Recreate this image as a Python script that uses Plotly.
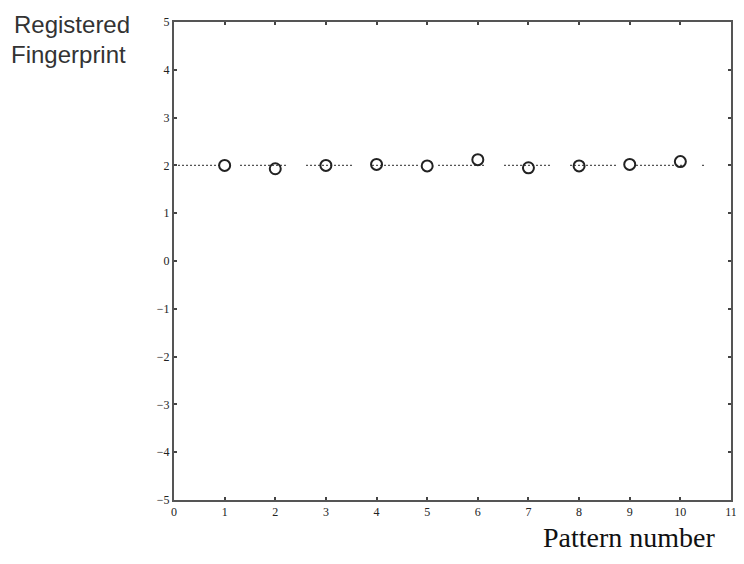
import plotly.graph_objects as go

patterns = [1, 2, 3, 4, 5, 6, 7, 8, 9, 10]
registered = [2.00, 1.93, 2.00, 2.02, 1.99, 2.12, 1.95, 1.99, 2.02, 2.08]
ref_x = [0, 10.5]
ref_y = [2, 2]
x_ticks = list(range(0, 12))
y_ticks = list(range(-5, 6))

dash = ",".join(["2px"] * 23) + ",20px"

fig = go.Figure()
fig.add_trace(go.Scatter(x=ref_x, y=ref_y, mode="lines",
                         line=dict(color="#555", width=1.2, dash=dash),
                         hoverinfo="skip", showlegend=False))
fig.add_trace(go.Scatter(x=patterns, y=registered, mode="markers",
                         marker=dict(symbol="circle-open", size=11, color="#222",
                                     line=dict(width=2, color="#222")),
                         showlegend=False))

axis_common = dict(showgrid=False, zeroline=False, showline=True, linecolor="#555",
                   linewidth=2, mirror="ticks", ticks="inside", ticklen=3,
                   tickcolor="#444", tickwidth=2,
                   tickfont=dict(family="Liberation Serif", size=12, color="#222"))

fig.update_xaxes(range=[0, 11], tickvals=x_ticks, **axis_common)
fig.update_yaxes(range=[-5, 5], tickvals=y_ticks, **axis_common)

fig.update_layout(
    width=736, height=548,
    margin=dict(l=166, r=7, t=12, b=56),
    plot_bgcolor="white", paper_bgcolor="white",
    annotations=[
        dict(text="Registered", x=-0.291, y=0.994, xref="paper", yref="paper",
             showarrow=False, xanchor="left", yanchor="middle",
             font=dict(family="Liberation Sans", size=24, color="#333")),
        dict(text="Fingerprint", x=-0.297, y=0.931, xref="paper", yref="paper",
             showarrow=False, xanchor="left", yanchor="middle",
             font=dict(family="Liberation Sans", size=24, color="#333")),
        dict(text="Pattern number", x=0.977, y=-0.078, xref="paper", yref="paper",
             showarrow=False, xanchor="right", yanchor="middle",
             font=dict(family="Liberation Serif", size=28, color="#111")),
    ],
)
fig.write_html("out.html")
